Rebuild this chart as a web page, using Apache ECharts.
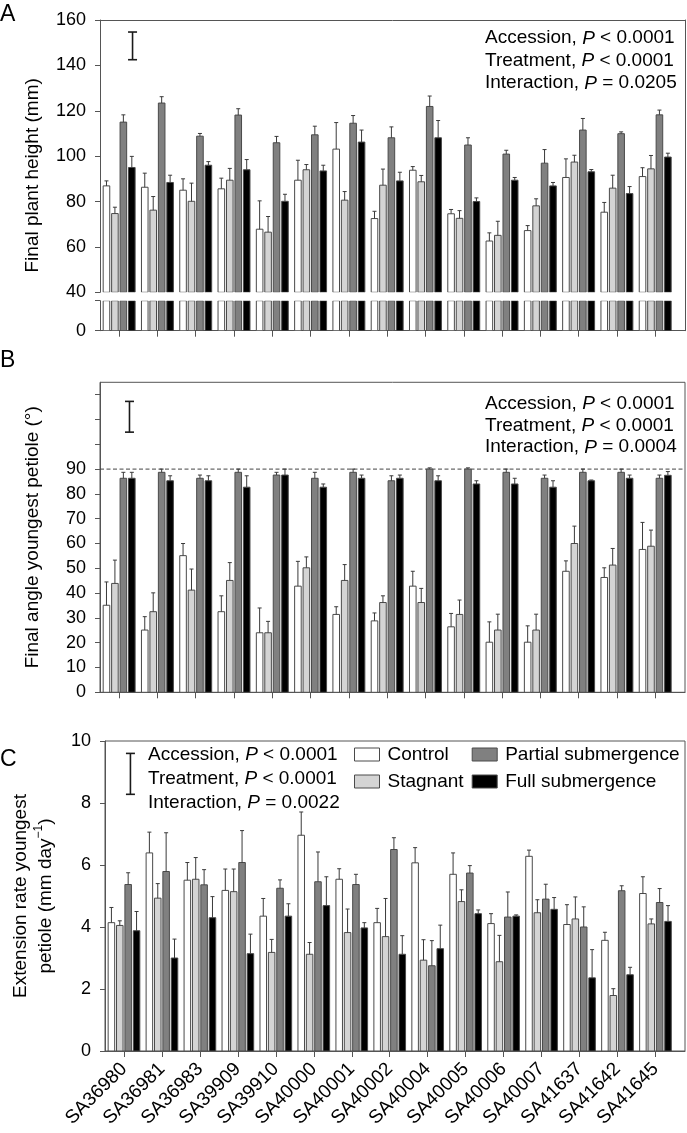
<!DOCTYPE html>
<html><head><meta charset="utf-8">
<script src="https://cdn.jsdelivr.net/npm/echarts@6/dist/echarts.min.js"></script>
<style>html,body{margin:0;padding:0;background:#fff}#c{width:687px;height:1133px}</style>
</head><body><div id="c"></div>
<script>
// ---------- data ----------
const accessions = ['SA36980','SA36981','SA36983','SA39909','SA39910','SA40000','SA40001','SA40002','SA40004','SA40005','SA40006','SA40007','SA41637','SA41642','SA41645'];
const treatments = ['Control','Stagnant','Partial submergence','Full submergence'];

// Panel A – final plant height (mm): means and SE
const heightControl  = [86.9, 86.3, 85.0, 85.6, 67.8, 89.4, 103.1, 72.5, 93.8, 74.6, 62.6, 67.2, 90.6, 75.3, 91.0];
const heightControlSE  = [2.2, 6.2, 5.0, 4.7, 12.5, 8.8, 11.7, 3.2, 1.6, 1.9, 3.6, 2.2, 8.2, 4.3, 3.9];
const heightStagnant = [74.7, 76.2, 80.1, 89.4, 66.5, 94.0, 80.6, 87.2, 88.7, 72.6, 65.1, 78.1, 97.4, 85.9, 94.4];
const heightStagnantSE = [2.8, 6.0, 8.0, 5.2, 6.9, 2.3, 3.8, 7.1, 2.8, 3.4, 6.2, 3.1, 3.0, 5.7, 5.9];
const heightPartial  = [115.0, 123.4, 108.8, 118.1, 105.9, 109.4, 114.5, 108.1, 121.9, 104.9, 100.9, 96.9, 111.5, 109.9, 118.2];
const heightPartialSE  = [3.2, 2.8, 1.2, 2.8, 2.8, 3.8, 3.4, 4.8, 4.6, 3.2, 1.7, 6.0, 5.1, 0.8, 2.1];
const heightFull     = [95.0, 88.4, 96.0, 94.0, 80.1, 93.5, 106.2, 89.1, 108.1, 80.0, 89.4, 86.9, 93.1, 83.5, 99.6];
const heightFullSE     = [4.9, 3.2, 1.6, 4.5, 3.1, 2.5, 5.3, 3.8, 7.6, 1.6, 1.2, 1.5, 1.0, 3.1, 1.7];

// Panel B – final angle youngest petiole (deg)
const angleControl  = [35.1, 25.1, 55.1, 32.5, 24.0, 42.8, 31.4, 28.8, 42.8, 26.4, 20.2, 20.2, 48.8, 46.3, 57.6];
const angleControlSE  = [9.4, 5.4, 4.9, 6.4, 10.0, 10.0, 3.1, 3.2, 6.0, 5.4, 8.2, 6.6, 4.2, 3.9, 10.9];
const angleStagnant = [43.9, 32.5, 41.2, 45.1, 24.0, 50.2, 45.1, 36.2, 36.2, 31.4, 25.1, 25.1, 60.0, 51.3, 58.9];
const angleStagnantSE = [9.4, 7.6, 8.5, 7.2, 4.6, 4.4, 6.4, 2.7, 5.7, 5.8, 6.4, 6.4, 7.0, 6.7, 6.5];
const anglePartial  = [86.3, 88.7, 86.3, 88.7, 87.6, 86.3, 88.7, 85.3, 90.0, 90.0, 88.7, 86.3, 88.7, 88.7, 86.3];
const anglePartialSE  = [2.4, 1.3, 1.3, 1.3, 1.1, 2.4, 1.3, 2.0, 0.5, 0.5, 1.3, 1.3, 1.3, 1.3, 1.3];
const angleFull     = [86.3, 85.3, 85.3, 82.7, 87.6, 82.7, 86.3, 86.3, 85.3, 84.0, 84.0, 82.7, 85.3, 86.3, 87.5];
const angleFullSE     = [2.4, 2.0, 2.0, 4.6, 2.4, 1.3, 1.3, 1.3, 2.0, 1.3, 2.3, 2.6, 0.3, 1.3, 1.5];

// Panel C – extension rate youngest petiole (mm/day)
const rateControl  = [4.14, 6.39, 5.51, 5.18, 4.35, 6.96, 5.54, 4.14, 6.07, 5.70, 4.11, 6.28, 4.08, 3.57, 5.08];
const rateControlSE  = [0.49, 0.67, 0.57, 0.69, 0.57, 0.75, 0.34, 0.46, 0.49, 0.69, 0.32, 0.20, 0.64, 0.26, 0.54];
const rateStagnant = [4.05, 4.93, 5.54, 5.14, 3.18, 3.12, 3.82, 3.69, 2.93, 4.82, 2.88, 4.46, 4.26, 1.79, 4.10];
const rateStagnantSE = [0.15, 0.47, 0.70, 0.73, 0.42, 0.38, 0.76, 1.23, 0.66, 0.38, 0.85, 0.42, 0.71, 0.22, 0.16];
const ratePartial  = [5.37, 5.79, 5.36, 6.08, 5.25, 5.46, 5.37, 6.50, 2.75, 5.74, 4.32, 4.90, 4.00, 5.17, 4.79];
const ratePartialSE  = [0.38, 1.25, 0.49, 1.03, 0.27, 0.96, 0.33, 0.38, 0.81, 0.24, 0.81, 0.48, 0.65, 0.16, 0.45];
const rateFull     = [3.88, 3.00, 4.30, 3.14, 4.35, 4.69, 3.97, 3.12, 3.30, 4.43, 4.35, 4.57, 2.36, 2.46, 4.18];
const rateFullSE     = [0.62, 0.61, 0.68, 0.63, 0.40, 0.93, 0.17, 0.60, 0.76, 0.12, 0.04, 0.38, 0.91, 0.24, 0.51];

// Standalone LSD-type scale bars (low, high) per panel
const scaleBarA = [142.5, 154.7];
const scaleBarB = [104.9, 117.3];
const scaleBarC = [8.28, 9.60];

const statsA = [['Accession', '<', '0.0001'], ['Treatment', '<', '0.0001'], ['Interaction', '=', '0.0205']];
const statsB = [['Accession', '<', '0.0001'], ['Treatment', '<', '0.0001'], ['Interaction', '=', '0.0004']];
const statsC = [['Accession', '<', '0.0001'], ['Treatment', '<', '0.0001'], ['Interaction', '=', '0.0022']];

const ticksB = [0, 10, 20, 30, 40, 50, 60, 70, 80, 90, 100, 110, 120];
const labelsB = [0, 10, 20, 30, 40, 50, 60, 70, 80, 90];
const refAngle = 90;

// ---------- styling / layout ----------
const FONT = 'Liberation Sans, Arial, Helvetica, sans-serif';
const FILLS = ['#ffffff', '#d4d4d4', '#808080', '#000000'];
const EDGE = '#4a4a4a';
const AXC = '#555555';
const GL = 100, GW = 585;
const BAND_PX = 38.29;
const XMIN = 0.5, XMAX = 0.5 + GW / BAND_PX;
const positions = accessions.map((_, i) => i + 1);
const scaleBarX = { A: 1.35, B: 1.27, C: 1.17 };

function barRender(j, withErr) {
  return function (params, api) {
    const x = api.value(0), v = api.value(1), se = api.value(2);
    const cs = params.coordSys;
    const band = api.size([1, 0])[0];
    const bw = band * 0.172, step = band * 0.2207;
    const p = api.coord([x, v]);
    const cx = p[0] + (j - 1.5) * step;
    const base = cs.y + cs.height;
    const top = Math.max(p[1], cs.y);
    const children = [{
      type: 'rect',
      shape: { x: cx - bw / 2, y: top, width: bw, height: base - top },
      style: { fill: FILLS[j], stroke: EDGE, lineWidth: 1 }
    }];
    if (withErr) {
      const e = api.coord([x, v + se])[1];
      children.push({ type: 'line', shape: { x1: cx, y1: top, x2: cx, y2: e }, style: { stroke: '#3a3a3a', lineWidth: 1 } });
      children.push({ type: 'line', shape: { x1: cx - 2, y1: e, x2: cx + 2, y2: e }, style: { stroke: '#3a3a3a', lineWidth: 1 } });
    }
    return { type: 'group', children };
  };
}
function scaleRender(params, api) {
  const a = api.coord([api.value(0), api.value(1)]);
  const b = api.coord([api.value(0), api.value(2)]);
  const st = { stroke: '#1a1a1a', lineWidth: 1.6 };
  return { type: 'group', children: [
    { type: 'line', shape: { x1: a[0], y1: a[1], x2: b[0], y2: b[1] }, style: st },
    { type: 'line', shape: { x1: a[0] - 4.5, y1: a[1], x2: a[0] + 4.5, y2: a[1] }, style: st },
    { type: 'line', shape: { x1: b[0] - 4.5, y1: b[1], x2: b[0] + 4.5, y2: b[1] }, style: st }
  ]};
}

const panels = [
  { xi: 0, yi: 0, err: true, sets: [[heightControl, heightControlSE], [heightStagnant, heightStagnantSE], [heightPartial, heightPartialSE], [heightFull, heightFullSE]] },
  { xi: 1, yi: 1, err: false, sets: [[heightControl, heightControlSE], [heightStagnant, heightStagnantSE], [heightPartial, heightPartialSE], [heightFull, heightFullSE]] },
  { xi: 3, yi: 4, err: true, sets: [[angleControl, angleControlSE], [angleStagnant, angleStagnantSE], [anglePartial, anglePartialSE], [angleFull, angleFullSE]] },
  { xi: 4, yi: 5, err: true, sets: [[rateControl, rateControlSE], [rateStagnant, rateStagnantSE], [ratePartial, ratePartialSE], [rateFull, rateFullSE]] }
];

const series = [];
panels.forEach(p => {
  p.sets.forEach((s, j) => {
    series.push({
      type: 'custom', name: treatments[j], xAxisIndex: p.xi, yAxisIndex: p.yi,
      clip: true, renderItem: barRender(j, p.err),
      itemStyle: { color: FILLS[j], borderColor: EDGE },
      encode: { x: 0, y: 1 },
      data: positions.map((x, i) => [x, s[0][i], s[1][i]])
    });
  });
});
[[0, 0, scaleBarX.A, scaleBarA], [3, 4, scaleBarX.B, scaleBarB], [4, 5, scaleBarX.C, scaleBarC]].forEach(d => {
  series.push({ type: 'custom', xAxisIndex: d[0], yAxisIndex: d[1], renderItem: scaleRender, encode: { x: 0, y: 1 }, data: [[d[2], d[3][0], d[3][1]]], silent: true });
});
series.push({
  type: 'line', xAxisIndex: 3, yAxisIndex: 4, symbol: 'none', silent: true, z: 1,
  lineStyle: { type: [4, 2.5], color: '#444', width: 1 },
  data: [[XMIN, refAngle], [XMAX, refAngle]]
});

function statText(rows) {
  return rows.map(r => `{n|${r[0]}, }{i|P}{n| ${r[1]} ${r[2]}}`).join('\n');
}
function statRich(lh) {
  return {
    n: { fontSize: 19, fontFamily: FONT, fontWeight: 'normal', color: '#000', lineHeight: lh },
    i: { fontSize: 19, fontFamily: FONT, fontWeight: 'normal', color: '#000', fontStyle: 'italic', lineHeight: lh }
  };
}

const lbl = { fontSize: 18, fontFamily: FONT, color: '#000' };
const nameStyle = { fontSize: 19, fontFamily: FONT, color: '#000' };
const axLine = { show: true, onZero: false, lineStyle: { color: AXC, width: 1 } };
const xTick = { show: true, length: 6, lineStyle: { color: AXC }, customValues: positions };

const option = {
  animation: false,
  backgroundColor: '#fff',
  grid: [
    { left: GL, width: GW, top: 20, height: 272.3 },
    { left: GL, width: GW, top: 300.7, height: 30 },
    { left: GL, width: GW, top: 20, height: 310.7 },
    { left: GL, width: GW, top: 382.3, height: 310, show: true, borderColor: AXC, borderWidth: 1 },
    { left: GL, width: GW, top: 741, height: 310, show: true, borderColor: AXC, borderWidth: 1 }
  ],
  xAxis: [
    { gridIndex: 0, type: 'value', min: XMIN, max: XMAX, show: false },
    { gridIndex: 1, type: 'value', min: XMIN, max: XMAX, axisLine: axLine, axisTick: xTick, axisLabel: { show: false }, splitLine: { show: false } },
    { gridIndex: 2, type: 'value', min: 0, max: 1, position: 'top', axisLine: axLine, axisTick: { show: false }, axisLabel: { show: false }, splitLine: { show: false } },
    { gridIndex: 3, type: 'value', min: XMIN, max: XMAX, axisLine: axLine, axisTick: xTick, axisLabel: { show: false }, splitLine: { show: false } },
    { gridIndex: 4, type: 'value', min: XMIN, max: XMAX, axisLine: axLine, axisTick: xTick,
      axisLabel: { fontSize: 19, fontFamily: FONT, color: '#000', customValues: positions, rotate: 45, margin: 15, formatter: v => accessions[Math.round(v) - 1] || '' },
      splitLine: { show: false } }
  ],
  yAxis: [
    { gridIndex: 0, type: 'value', min: 40, max: 160, interval: 20, axisLine: axLine,
      axisTick: { show: true, length: 5, lineStyle: { color: AXC } },
      axisLabel: Object.assign({}, lbl, { margin: 14 }), splitLine: { show: false } },
    { gridIndex: 1, type: 'value', min: 0, max: 13.2, axisLine: axLine,
      axisTick: { show: true, length: 5, lineStyle: { color: AXC }, customValues: [0, 13.2] },
      axisLabel: Object.assign({}, lbl, { margin: 14, customValues: [0] }), splitLine: { show: false } },
    { gridIndex: 2, type: 'value', min: 0, max: 1, position: 'right', axisLine: axLine, axisTick: { show: false }, axisLabel: { show: false }, splitLine: { show: false } },
    { gridIndex: 2, type: 'value', min: 0, max: 1, position: 'left', axisLine: { show: false }, axisTick: { show: false }, axisLabel: { show: false }, splitLine: { show: false },
      name: 'Final plant height (mm)', nameLocation: 'middle', nameRotate: 90, nameGap: 58, nameTextStyle: nameStyle },
    { gridIndex: 3, type: 'value', min: 0, max: 125, axisLine: axLine,
      axisTick: { show: true, length: 5, lineStyle: { color: AXC }, customValues: ticksB },
      axisLabel: Object.assign({}, lbl, { margin: 14, customValues: labelsB }), splitLine: { show: false },
      name: 'Final angle youngest petiole (°)', nameLocation: 'middle', nameRotate: 90, nameGap: 58, nameTextStyle: nameStyle },
    { gridIndex: 4, type: 'value', min: 0, max: 10, interval: 2, axisLine: axLine,
      axisTick: { show: true, length: 5, lineStyle: { color: AXC } },
      axisLabel: Object.assign({}, lbl, { margin: 14 }), splitLine: { show: false },
      name: '{t|Extension rate youngest}\n{t|petiole (mm day}{s|−1}{t|)}', nameLocation: 'middle', nameRotate: 90, nameGap: 47,
      nameTextStyle: { fontSize: 19, fontFamily: FONT, color: '#000', lineHeight: 25,
        rich: { t: { fontSize: 19, fontFamily: FONT, color: '#000', lineHeight: 25 },
                s: { fontSize: 12, fontFamily: FONT, color: '#000', lineHeight: 25, verticalAlign: 'top' } } } }
  ],
  title: [
    { text: 'A', left: 0, top: 3, padding: 0, textStyle: { fontSize: 23, fontWeight: 'normal', fontFamily: FONT, color: '#000' } },
    { text: 'B', left: 0, top: 349.5, padding: 0, textStyle: { fontSize: 23, fontWeight: 'normal', fontFamily: FONT, color: '#000' } },
    { text: 'C', left: 0, top: 748.5, padding: 0, textStyle: { fontSize: 23, fontWeight: 'normal', fontFamily: FONT, color: '#000' } },
    { text: statText(statsA), left: 485, top: 27, padding: 0, textStyle: { fontWeight: 'normal', rich: statRich(22.5) } },
    { text: statText(statsB), left: 485, top: 393, padding: 0, textStyle: { fontWeight: 'normal', rich: statRich(21.7) } },
    { text: statText(statsC), left: 148, top: 743, padding: 0, textStyle: { fontWeight: 'normal', rich: statRich(23.8) } }
  ],
  legend: [
    { data: [0, 1].map(j => ({ name: treatments[j], itemStyle: { color: FILLS[j], borderColor: EDGE, borderWidth: 1 } })),
      orient: 'vertical', left: 354, top: 745, padding: 0, itemWidth: 25, itemHeight: 13, itemGap: 8, icon: 'rect', selectedMode: false,
      textStyle: { fontSize: 19, fontFamily: FONT, color: '#000', padding: [0, 0, 0, 3] } },
    { data: [2, 3].map(j => ({ name: treatments[j], itemStyle: { color: FILLS[j], borderColor: EDGE, borderWidth: 1 } })),
      orient: 'vertical', left: 471.7, top: 745, padding: 0, itemWidth: 25, itemHeight: 13, itemGap: 8, icon: 'rect', selectedMode: false,
      textStyle: { fontSize: 19, fontFamily: FONT, color: '#000', padding: [0, 0, 0, 3] } }
  ],
  series: series
};

const chart = echarts.init(document.getElementById('c'), null, { renderer: 'canvas' });
chart.setOption(option);
</script>
</body></html>
